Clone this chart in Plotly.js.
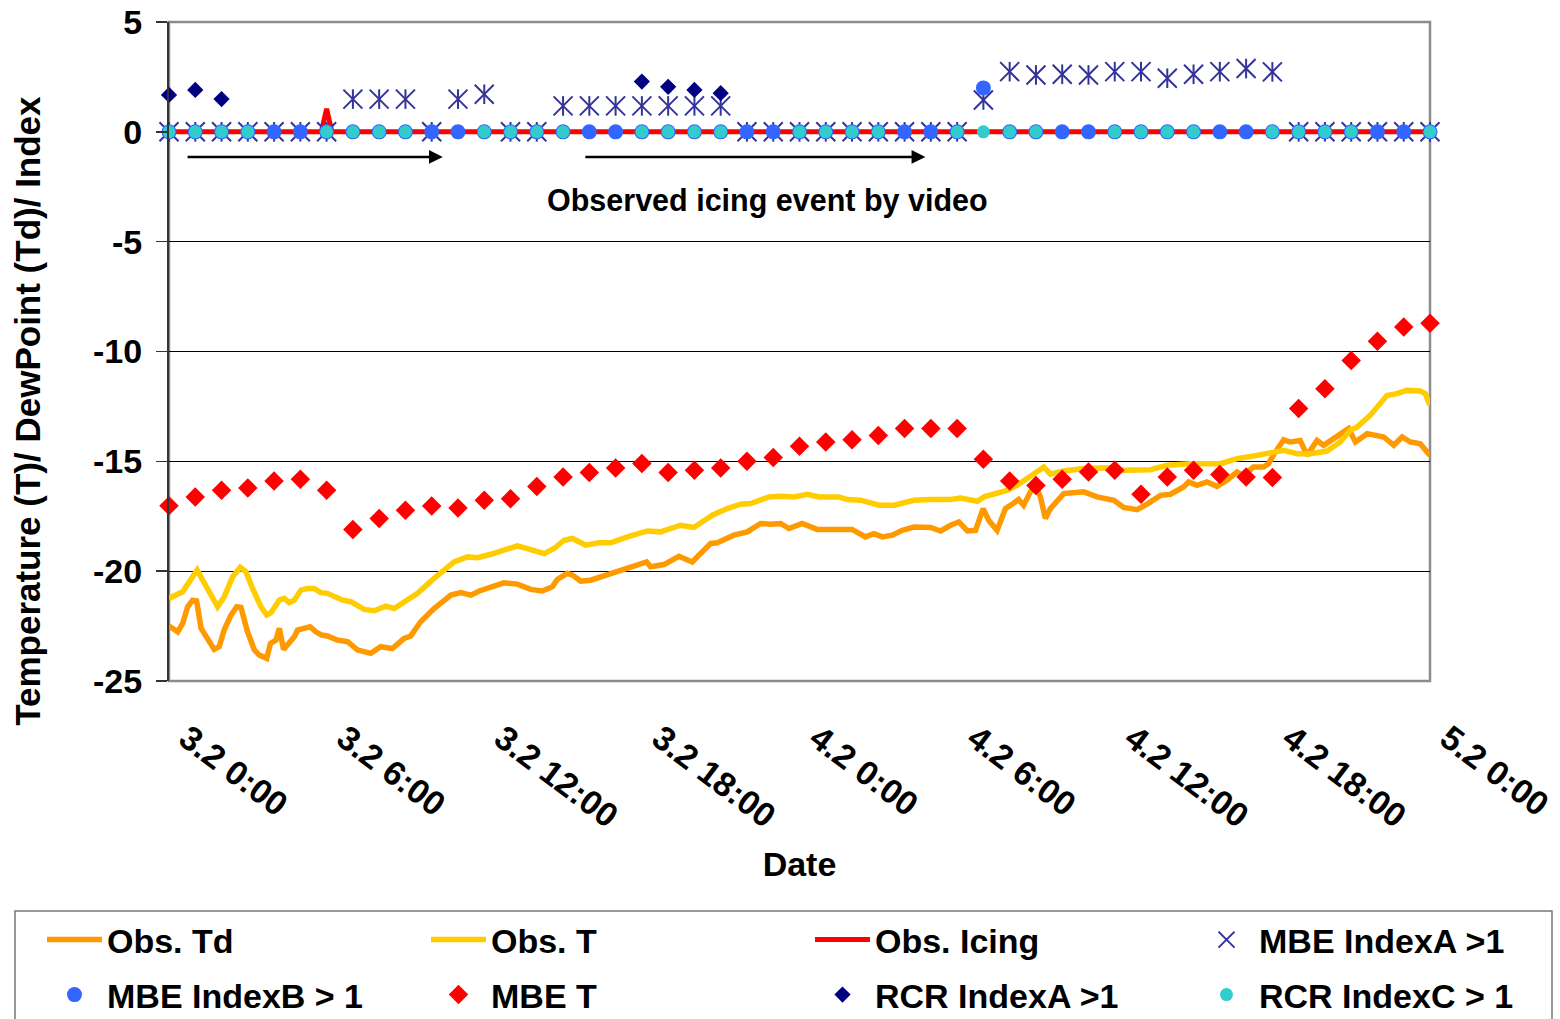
<!DOCTYPE html>
<html><head><meta charset="utf-8">
<script src="https://cdn.plot.ly/plotly-3.0.1.min.js"></script>
<style>html,body{margin:0;padding:0;background:#fff}#chart{width:1560px;height:1019px}</style>
</head><body><div id="chart"></div>
<script>
// hourly time axis (hours since 3.2 0:00)
const hours = [0,1,2,3,4,5,6,7,8,9,10,11,12,13,14,15,16,17,18,19,20,21,22,23,24,25,26,27,28,29,30,31,32,33,34,35,36,37,38,39,40,41,42,43,44,45,46,47,48];
const tickHours = [0,6,12,18,24,30,36,42,48];
const tickLabels = ["3.2 0:00","3.2 6:00","3.2 12:00","3.2 18:00","4.2 0:00","4.2 6:00","4.2 12:00","4.2 18:00","5.2 0:00"];
const yTickValues = [-25,-20,-15,-10,-5,0,5];
const yTickLabels = ["-25","-20","-15","-10","-5","0","5"];

// Obs. Td (dew point)
const tdHours = [0,0.33,0.52,0.71,0.9,1.05,1.22,1.47,1.72,1.91,2.1,2.36,2.58,2.74,2.99,3.25,3.44,3.72,3.86,4.07,4.2,4.36,4.52,4.77,4.89,5.15,5.37,5.59,5.81,6.03,6.41,6.8,7.18,7.68,8.06,8.5,8.95,9.2,9.58,10.09,10.73,11.11,11.49,11.81,12.13,12.75,13.26,13.77,14.21,14.59,14.78,15.16,15.36,15.67,16.05,16.43,16.94,17.57,18.18,18.33,18.84,19.41,19.92,20.17,20.62,20.87,21.5,22.01,22.52,22.9,23.28,23.6,24.1,24.67,25.31,26.0,26.51,26.83,27.15,27.53,27.91,28.36,28.99,29.37,29.75,30.07,30.39,30.7,30.99,31.2,31.52,31.84,32.16,32.34,32.53,32.79,32.98,33.17,33.36,33.55,34.06,34.57,34.82,35.33,35.97,36.34,36.85,37.23,37.74,38.12,38.62,38.81,39.13,39.51,39.89,40.27,40.65,40.9,41.28,41.66,41.85,42.11,42.43,42.68,43.06,43.32,43.7,43.95,44.33,44.9,45.16,45.61,46.24,46.62,46.94,47.25,47.63,48];
const tdValues = [-22.5,-22.76,-22.38,-21.62,-21.32,-21.35,-22.6,-23.14,-23.56,-23.44,-22.68,-22.0,-21.62,-21.65,-22.76,-23.59,-23.82,-23.97,-23.29,-23.14,-22.6,-23.56,-23.36,-22.99,-22.68,-22.6,-22.53,-22.76,-22.91,-22.95,-23.14,-23.21,-23.59,-23.74,-23.44,-23.52,-23.06,-22.95,-22.3,-21.7,-21.09,-20.98,-21.09,-20.9,-20.79,-20.53,-20.59,-20.83,-20.9,-20.71,-20.38,-20.1,-20.18,-20.45,-20.41,-20.27,-20.08,-19.83,-19.58,-19.8,-19.7,-19.32,-19.58,-19.27,-18.74,-18.71,-18.36,-18.21,-17.83,-17.86,-17.83,-18.06,-17.83,-18.1,-18.1,-18.1,-18.44,-18.29,-18.44,-18.36,-18.14,-17.99,-18.01,-18.17,-17.91,-17.76,-18.17,-18.14,-17.15,-17.68,-18.14,-17.15,-16.9,-16.74,-17.0,-16.39,-16.09,-16.62,-17.6,-17.15,-16.47,-16.44,-16.39,-16.62,-16.77,-17.1,-17.2,-16.95,-16.55,-16.5,-16.17,-15.94,-16.09,-15.94,-16.14,-15.86,-15.49,-15.64,-15.26,-15.26,-15.11,-14.58,-14.02,-14.12,-14.05,-14.73,-14.05,-14.27,-13.97,-13.51,-14.12,-13.74,-13.89,-14.27,-13.89,-14.12,-14.2,-14.73];

// Obs. T (temperature)
const tHours = [0,0.52,1.07,1.34,1.6,1.85,2.1,2.42,2.71,2.93,3.18,3.5,3.72,3.88,4.2,4.39,4.58,4.77,5.02,5.27,5.53,5.78,6.03,6.29,6.61,6.92,7.43,7.81,8.25,8.57,9.08,9.46,10.09,10.85,11.36,11.74,12.25,12.75,13.26,13.64,14.28,14.66,15.04,15.36,15.86,16.37,16.81,17.45,18.21,18.71,19.47,19.98,20.68,21.25,21.76,22.14,22.84,23.28,23.79,24.3,24.74,25.5,25.82,26.33,27.03,27.6,28.36,28.99,29.75,30.13,30.77,31.05,31.65,31.9,32.28,32.79,33.3,33.55,34.06,34.82,35.83,36.34,37.36,37.99,38.88,40.02,40.65,41.41,42.05,42.43,42.94,43.44,44.08,44.58,44.96,45.22,45.72,46.36,46.74,47.12,47.63,47.82,48];
const tValues = [-21.24,-20.94,-19.95,-20.56,-21.09,-21.62,-21.17,-20.26,-19.83,-20.03,-20.79,-21.62,-22.0,-21.89,-21.32,-21.24,-21.44,-21.32,-20.86,-20.79,-20.79,-20.98,-21.01,-21.17,-21.32,-21.39,-21.74,-21.8,-21.59,-21.7,-21.32,-21.01,-20.33,-19.58,-19.35,-19.39,-19.23,-19.05,-18.85,-18.97,-19.2,-18.97,-18.59,-18.51,-18.82,-18.71,-18.71,-18.44,-18.17,-18.21,-17.91,-18.01,-17.45,-17.15,-16.95,-16.92,-16.62,-16.59,-16.62,-16.5,-16.62,-16.62,-16.74,-16.77,-17.0,-17.0,-16.77,-16.74,-16.74,-16.67,-16.82,-16.6,-16.44,-16.32,-16.09,-15.64,-15.26,-15.59,-15.44,-15.33,-15.29,-15.41,-15.38,-15.18,-15.11,-15.11,-14.88,-14.73,-14.58,-14.5,-14.65,-14.65,-14.53,-14.12,-13.59,-13.44,-12.91,-12.0,-11.92,-11.77,-11.8,-11.92,-12.45];

// Obs. Icing
const icingHours = [0,5.8,6,6.2,48];
const icingValues = [0,0,1.05,0,0];

// hourly index / model series
const mbeIndexA = [0,0,0,0,0,0,0,1.49,1.49,1.49,0,1.49,1.71,0,0,1.18,1.18,1.18,1.18,1.18,1.18,1.18,0,0,0,0,0,0,0,0,0,1.45,2.74,2.59,2.62,2.59,2.74,2.74,2.44,2.62,2.74,2.88,2.73,0,0,0,0,0,0];
const mbeIndexB = [0,0,0,0,0,0,0,0,0,0,0,0,0,0,0,0,0,0,0,0,0,0,0,0,0,0,0,0,0,0,0,2.0,0,0,0,0,0,0,0,0,0,0,0,0,0,0,0,0,0];
const mbeT = [-17.02,-16.62,-16.32,-16.21,-15.9,-15.82,-16.32,-18.1,-17.6,-17.23,-17.03,-17.12,-16.77,-16.7,-16.14,-15.71,-15.51,-15.3,-15.1,-15.51,-15.41,-15.3,-15.0,-14.82,-14.31,-14.12,-14.02,-13.82,-13.51,-13.51,-13.51,-14.91,-15.9,-16.1,-15.82,-15.49,-15.41,-16.5,-15.71,-15.41,-15.6,-15.71,-15.74,-12.6,-11.7,-10.41,-9.53,-8.89,-8.71];
const rcrIndexA = [1.68,1.91,1.49,null,null,null,null,null,null,null,null,null,null,null,null,null,null,null,2.29,2.05,1.91,1.76,null,null,null,null,null,null,null,null,null,null,null,null,null,null,null,null,null,null,null,null,null,null,null,null,null,null,null];
const rcrIndexC = [0,0,0,0,null,null,0,0,0,0,null,null,0,0,0,0,null,null,0,0,0,0,null,null,0,0,0,0,null,null,0,0,0,0,null,null,0,0,0,0,null,null,0,0,0,0,null,null,0];

const FONT = 'Liberation Sans, Arial, sans-serif';
const bold = (size) => ({family:FONT, size:size, color:'#000', weight:700});

const traces = [
  {name:'Obs. Td', legend:'legend', x:tdHours, y:tdValues, mode:'lines', line:{color:'#FF9900', width:5.5}},
  {name:'Obs. T', legend:'legend', x:tHours, y:tValues, mode:'lines', line:{color:'#FFCC00', width:5.5}},
  {name:'Obs. Icing', legend:'legend2', x:icingHours, y:icingValues, mode:'lines', line:{color:'#FF0000', width:5}},
  {name:'MBE IndexA >1', legend:'legend2', x:hours, y:mbeIndexA, mode:'markers', cliponaxis:false, legendgroup:'mbeA',
   marker:{symbol:'x-thin-open', size:19, color:'#333399', line:{color:'#333399', width:2}}},
  {name:'MBE IndexA >1', legend:'legend2', x:hours, y:mbeIndexA, mode:'markers', cliponaxis:false, legendgroup:'mbeA', showlegend:false,
   marker:{symbol:'line-ns-open', size:14, color:'#333399', line:{color:'#333399', width:2}}},
  {name:'MBE IndexB > 1', legend:'legend3', x:hours, y:mbeIndexB, mode:'markers', cliponaxis:false,
   marker:{symbol:'circle', size:15, color:'#3366FF'}},
  {name:'MBE T', legend:'legend3', x:hours, y:mbeT, mode:'markers', cliponaxis:false,
   marker:{symbol:'diamond', size:15, color:'#FF0000'}},
  {name:'RCR IndexA >1', legend:'legend4', x:hours, y:rcrIndexA, mode:'markers', cliponaxis:false,
   marker:{symbol:'diamond', size:12.5, color:'#000080'}},
  {name:'RCR IndexC > 1', legend:'legend4', x:hours, y:rcrIndexC, mode:'markers', cliponaxis:false,
   marker:{symbol:'circle', size:13, color:'#33CCCC'}}
];

function legendAt(xPx, topPx) {
  return {
    orientation:'h', xref:'container', yref:'container', x:xPx/1560, y:(1019-topPx)/1019,
    xanchor:'left', yanchor:'top', bgcolor:'rgba(0,0,0,0)', borderwidth:0,
    itemwidth:55, entrywidth:314, traceorder:'normal', font:bold(34)
  };
}

const layout = {
  width:1560, height:1019,
  margin:{l:169, r:130, t:22, b:338},
  paper_bgcolor:'#fff', plot_bgcolor:'#fff',
  font:bold(34),
  showlegend:true,
  xaxis:{
    range:[0,48], tickvals:tickHours, ticktext:tickLabels, tickangle:37,
    showgrid:false, zeroline:false, showline:false, ticks:'',
    ticklabelstandoff:30, ticklabelshift:18,
    tickfont:bold(34),
    title:{text:'Date', standoff:18, font:bold(34)}
  },
  xaxis2:{
    range:[0,48], overlaying:'x', anchor:'free', position:0.8346, side:'bottom',
    tickvals:tickHours, ticks:'outside', ticklen:7, tickwidth:1.5, tickcolor:'#000',
    showticklabels:false, showgrid:false, zeroline:false, showline:false
  },
  yaxis:{
    range:[-25,5], tickvals:yTickValues, ticktext:yTickLabels,
    showgrid:true, gridcolor:'#000', gridwidth:1, zeroline:false,
    showline:true, linecolor:'#333', linewidth:2,
    ticks:'outside', ticklen:11, tickwidth:1.5, tickcolor:'#333',
    ticklabelstandoff:7,
    tickfont:bold(34)
  },
  shapes:[
    {type:'rect', xref:'paper', yref:'paper', x0:0, x1:1, y0:0, y1:1, layer:'between',
     line:{color:'#8c8c8c', width:2.5}, fillcolor:'rgba(0,0,0,0)'},
    {type:'rect', xref:'paper', yref:'paper', x0:-0.12213, x1:1.09675, y0:-0.6, y1:-0.34901, layer:'above',
     line:{color:'#777', width:1.5}, fillcolor:'rgba(0,0,0,0)'}
  ],
  annotations:[
    {xref:'paper', yref:'paper', x:-0.1118, y:0.41, text:'Temperature (T)/ DewPoint (Td)/ Index',
     textangle:-90, showarrow:false, xanchor:'center', yanchor:'middle', font:bold(35)},
    {x:22.78, y:-3.14, xref:'x', yref:'y', text:'Observed icing event by video', showarrow:false,
     font:bold(30.5)},
    {x:10.42, y:-1.14, ax:0.65, ay:-1.14, xref:'x', yref:'y', axref:'x', ayref:'y', text:'',
     showarrow:true, arrowhead:2, arrowsize:1.1, arrowwidth:2.5, arrowcolor:'#000', standoff:0},
    {x:28.79, y:-1.14, ax:15.79, ay:-1.14, xref:'x', yref:'y', axref:'x', ayref:'y', text:'',
     showarrow:true, arrowhead:2, arrowsize:1.1, arrowwidth:2.5, arrowcolor:'#000', standoff:0}
  ],
  legend:legendAt(42, 911),
  legend2:legendAt(810, 911),
  legend3:legendAt(42, 966),
  legend4:legendAt(810, 966)
};

Plotly.newPlot('chart', traces, layout, {displayModeBar:false, staticPlot:true});
</script>
</body></html>
